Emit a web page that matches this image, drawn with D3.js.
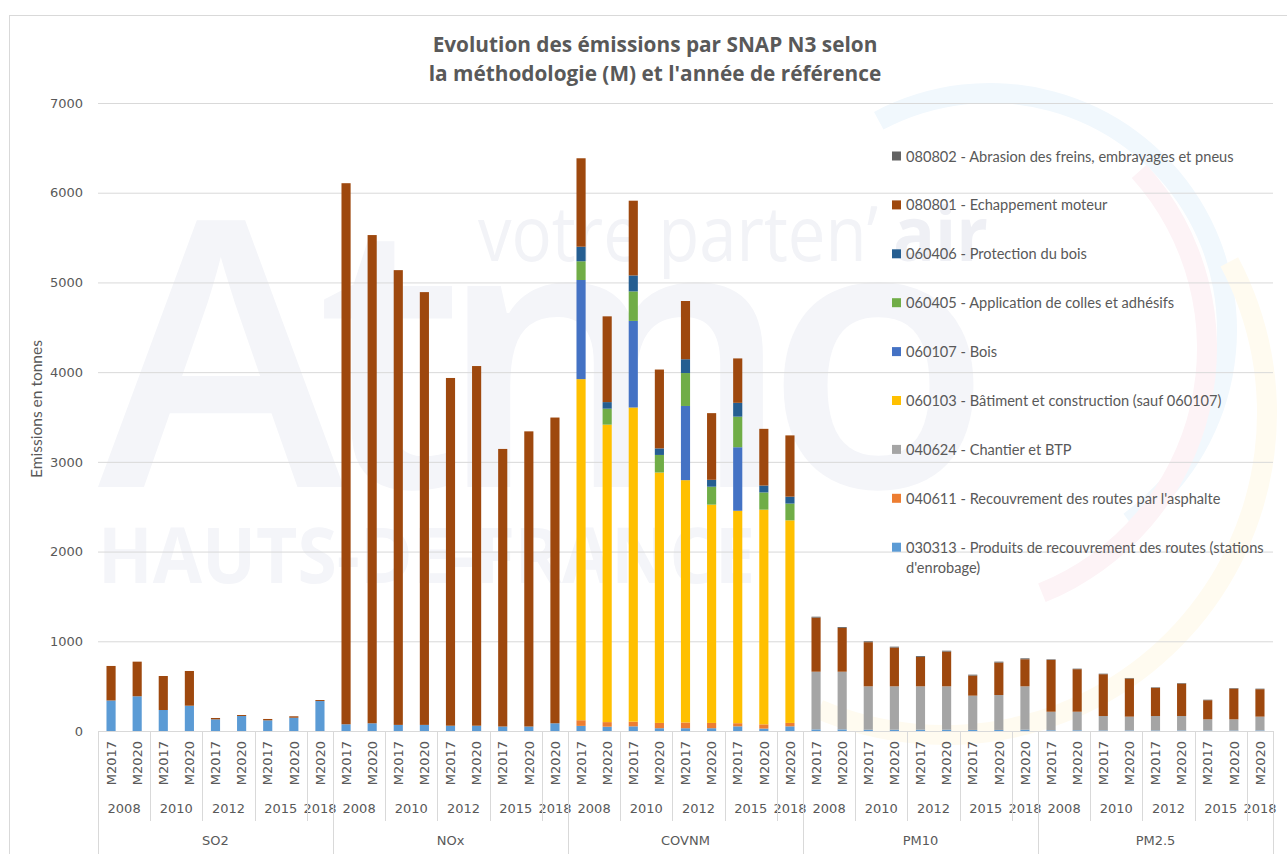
<!DOCTYPE html>
<html lang="fr">
<head>
<meta charset="UTF-8">
<title>Evolution des émissions par SNAP N3</title>
<script src="https://d3js.org/d3.v7.min.js"></script>
<style>
  html, body { margin: 0; padding: 0; background: #fff; }
  svg { display: block; }
  .tick text { font-family: "DejaVu Sans", Verdana, sans-serif; font-size: 13px; fill: #595959; }
</style>
</head>
<body>
<svg id="chart" width="1287" height="854"></svg>
<script>
// --- categories (3 level axis) ---
const pollutants = ["SO2", "NOx", "COVNM", "PM10", "PM2.5"];
const years = ["2008", "2010", "2012", "2015", "2018"];
const methodsByYear = [["M2017", "M2020"], ["M2017", "M2020"], ["M2017", "M2020"], ["M2017", "M2020"], ["M2020"]];
const yTicks = [0, 1000, 2000, 3000, 4000, 5000, 6000, 7000];

// --- series, 9 bars per pollutant (SO2, NOx, COVNM, PM10, PM2.5) ---
const s030313 = [340, 387, 234, 282, 130, 167, 119, 148, 334,
                 75, 86, 68, 68, 59, 59, 50, 50, 86,
                 57, 48, 52, 31, 31, 31, 52, 27, 52,
                 18, 18, 15, 15, 15, 15, 12, 12, 15,
                 8, 8, 6, 6, 6, 6, 5, 5, 6];
const s040611 = [0, 0, 0, 0, 0, 0, 0, 0, 0,
                 0, 0, 0, 0, 0, 0, 0, 0, 0,
                 63, 51, 52, 59, 64, 59, 35, 47, 38,
                 0, 0, 0, 0, 0, 0, 0, 0, 0,
                 0, 0, 0, 0, 0, 0, 0, 0, 0];
const s040624 = [0, 0, 0, 0, 0, 0, 0, 0, 0,
                 0, 0, 0, 0, 0, 0, 0, 0, 0,
                 0, 0, 0, 0, 0, 0, 0, 0, 0,
                 643, 643, 483, 483, 483, 483, 382, 389, 483,
                 207, 207, 161, 154, 161, 161, 125, 125, 154];
const s060103 = [0, 0, 0, 0, 0, 0, 0, 0, 0,
                 0, 0, 0, 0, 0, 0, 0, 0, 0,
                 3802, 3316, 3502, 2791, 2701, 2433, 2368, 2393, 2258,
                 0, 0, 0, 0, 0, 0, 0, 0, 0,
                 0, 0, 0, 0, 0, 0, 0, 0, 0];
const s060107 = [0, 0, 0, 0, 0, 0, 0, 0, 0,
                 0, 0, 0, 0, 0, 0, 0, 0, 0,
                 1105, 0, 965, 0, 827, 0, 708, 0, 0,
                 0, 0, 0, 0, 0, 0, 0, 0, 0,
                 0, 0, 0, 0, 0, 0, 0, 0, 0];
const s060405 = [0, 0, 0, 0, 0, 0, 0, 0, 0,
                 0, 0, 0, 0, 0, 0, 0, 0, 0,
                 209, 178, 329, 196, 367, 200, 341, 192, 187,
                 0, 0, 0, 0, 0, 0, 0, 0, 0,
                 0, 0, 0, 0, 0, 0, 0, 0, 0];
const s060406 = [0, 0, 0, 0, 0, 0, 0, 0, 0,
                 0, 0, 0, 0, 0, 0, 0, 0, 0,
                 162, 73, 178, 73, 154, 77, 154, 77, 77,
                 0, 0, 0, 0, 0, 0, 0, 0, 0,
                 0, 0, 0, 0, 0, 0, 0, 0, 0];
const s080801 = [385, 386, 379, 387, 15, 11, 15, 16, 11,
                 6031, 5442, 5069, 4824, 3876, 4009, 3094, 3290, 3408,
                 986, 956, 833, 879, 649, 743, 495, 632, 683,
                 603, 488, 492, 432, 328, 387, 224, 362, 302,
                 578, 474, 466, 425, 314, 362, 213, 343, 306];
const s080802 = [0, 0, 0, 0, 0, 0, 0, 0, 0,
                 0, 0, 0, 0, 0, 0, 0, 0, 0,
                 0, 0, 0, 0, 0, 0, 0, 0, 0,
                 10, 10, 10, 10, 10, 10, 10, 10, 10,
                 6, 6, 6, 6, 6, 6, 6, 6, 6];

// stack order bottom -> top
const seriesKeys = ["030313", "040611", "040624", "060103", "060107", "060405", "060406", "080801", "080802"];
const seriesValues = [s030313, s040611, s040624, s060103, s060107, s060405, s060406, s080801, s080802];
const seriesLabels = [
  "030313 - Produits de recouvrement des routes (stations d'enrobage)",
  "040611 - Recouvrement des routes par l'asphalte",
  "040624 - Chantier et BTP",
  "060103 - Bâtiment et construction (sauf 060107)",
  "060107 - Bois",
  "060405 - Application de colles et adhésifs",
  "060406 - Protection du bois",
  "080801 - Echappement moteur",
  "080802 - Abrasion des freins, embrayages et pneus"
];
const seriesColors = ["#5b9bd5", "#ed7d31", "#a5a5a5", "#ffc000", "#4472c4", "#70ad47", "#255e91", "#9e480e", "#636363"];

// build rows
const rows = [];
pollutants.forEach(p => {
  years.forEach((yr, yi) => {
    methodsByYear[yi].forEach(m => {
      const i = rows.length;
      const row = { i: i, pollutant: p, year: yr, method: m };
      seriesKeys.forEach((k, si) => { row[k] = seriesValues[si][i]; });
      rows.push(row);
    });
  });
});

const svg = d3.select("#chart");
const W = 1287, H = 854;
const plot = { left: 98, right: 1273, top: 103, bottom: 731 };

// chart frame
svg.append("rect")
  .attr("x", 9.5).attr("y", 15.5)
  .attr("width", W + 20).attr("height", H + 20)
  .attr("fill", "#fff").attr("stroke", "#d9d9d9");

// watermark (logo behind the plot)
const wm = svg.append("g").attr("class", "watermark");
const arc = d3.arc();
const rings = [
  { cx: 990, cy: 330, r: 237, a0: -28, a1: 144, color: "#f1f8fd" },
  { cx: 943, cy: 348, r: 264, a0: 48, a1: 158, color: "#fdf3f6" },
  { cx: 945, cy: 413, r: 322, a0: 62, a1: 203, color: "#fffbf0" }
];
rings.forEach(d => {
  wm.append("path")
    .attr("transform", `translate(${d.cx},${d.cy})`)
    .attr("d", arc({ innerRadius: d.r - 10, outerRadius: d.r + 10,
                     startAngle: d.a0 * Math.PI / 180, endAngle: d.a1 * Math.PI / 180, cornerRadius: 10 }))
    .attr("fill", d.color);
});
wm.append("text")
  .attr("x", 98).attr("y", 487)
  .attr("textLength", 894).attr("lengthAdjust", "spacing")
  .style("font-family", "'Open Sans', sans-serif").style("font-weight", 600)
  .style("font-size", "372px").attr("fill", "#f4f5f9")
  .text("Atmo");
wm.append("text")
  .attr("x", 98).attr("y", 583)
  .attr("textLength", 657).attr("lengthAdjust", "spacingAndGlyphs")
  .style("font-family", "'Open Sans', sans-serif").style("font-weight", 700)
  .style("font-size", "77px").attr("fill", "#f4f5f9")
  .text("HAUTS-DE-FRANCE");
wm.append("text")
  .attr("x", 478).attr("y", 261)
  .attr("textLength", 400).attr("lengthAdjust", "spacingAndGlyphs")
  .style("font-family", "'Open Sans', sans-serif").style("font-weight", 400)
  .style("font-size", "76px").attr("fill", "#f2f3f7")
  .text("votre parten\u2019");
wm.append("text")
  .attr("x", 893).attr("y", 261)
  .attr("textLength", 95).attr("lengthAdjust", "spacingAndGlyphs")
  .style("font-family", "'Open Sans', sans-serif").style("font-weight", 700)
  .style("font-size", "76px").attr("fill", "#eff0f5")
  .text("air");

// scales
const x = d3.scaleBand()
  .domain(rows.map(d => d.i))
  .range([plot.left, plot.right])
  .paddingInner(0.65)
  .paddingOuter(0.325);
const y = d3.scaleLinear().domain([0, 7000]).range([plot.bottom, plot.top]);
const step = x.step();

// y axis + gridlines
const yAxis = svg.append("g")
  .attr("transform", `translate(${plot.left},0)`)
  .call(d3.axisLeft(y).tickValues(yTicks).tickFormat(d3.format("d"))
    .tickSize(-(plot.right - plot.left)).tickPadding(15));
yAxis.select(".domain").remove();
yAxis.selectAll(".tick line").attr("stroke", "#d9d9d9");

// y axis title
svg.append("text")
  .attr("transform", "translate(36,409) rotate(-90)")
  .attr("text-anchor", "middle")
  .attr("dominant-baseline", "central")
  .style("font-family", "Lato, 'Open Sans', sans-serif").style("font-size", "15.5px")
  .attr("fill", "#595959")
  .text("Emissions en tonnes");

// stacked bars
const stack = d3.stack().keys(seriesKeys);
const stacked = stack(rows);
const color = d3.scaleOrdinal().domain(seriesKeys).range(seriesColors);

svg.append("g").selectAll("g")
  .data(stacked)
  .join("g")
  .attr("fill", d => color(d.key))
  .selectAll("rect")
  .data(d => d.filter(s => s[1] - s[0] > 0))
  .join("rect")
  .attr("x", d => x(d.data.i))
  .attr("width", x.bandwidth())
  .attr("y", d => y(d[1]))
  .attr("height", d => y(d[0]) - y(d[1]));

// x axis, level 1 (method)
const xAxis = svg.append("g")
  .attr("transform", `translate(0,${plot.bottom})`)
  .call(d3.axisBottom(x).tickSize(0).tickFormat(i => rows[i].method));
xAxis.select(".domain").attr("stroke", "#d9d9d9");
xAxis.selectAll(".tick text")
  .attr("transform", "rotate(-90)")
  .attr("text-anchor", "end")
  .attr("x", -10)
  .attr("y", 0)
  .attr("dy", "0.36em");

// level 2 (year) and level 3 (pollutant)
const lab = svg.append("g")
  .style("font-family", "'DejaVu Sans', Verdana, sans-serif")
  .style("font-size", "13px")
  .attr("fill", "#595959")
  .attr("text-anchor", "middle");

const yearGroups = d3.groups(rows, d => d.pollutant, d => d.year);
const seps = [];
yearGroups.forEach(([p, ys]) => {
  const pRows = ys.flatMap(g => g[1]);
  const p0 = plot.left + pRows[0].i * step;
  const p1 = plot.left + (pRows[pRows.length - 1].i + 1) * step;
  seps.push({ x: p0, long: true });
  lab.append("text")
    .attr("x", (p0 + p1) / 2).attr("y", 840)
    .attr("dominant-baseline", "central")
    .text(p);
  ys.forEach(([yr, rs], k) => {
    const g0 = plot.left + rs[0].i * step;
    const g1 = plot.left + (rs[rs.length - 1].i + 1) * step;
    if (k > 0) seps.push({ x: g0, long: false });
    lab.append("text")
      .attr("x", (g0 + g1) / 2).attr("y", 808)
      .attr("dominant-baseline", "central")
      .text(yr);
  });
});
seps.push({ x: plot.right, long: true });

svg.append("g").selectAll("line")
  .data(seps)
  .join("line")
  .attr("x1", d => Math.round(d.x) + 0.5).attr("x2", d => Math.round(d.x) + 0.5)
  .attr("y1", plot.bottom).attr("y2", d => d.long ? H : 821)
  .attr("stroke", "#d9d9d9");

// title
const title = svg.append("text")
  .attr("text-anchor", "middle")
  .style("font-family", "'Open Sans', Lato, sans-serif")
  .style("font-weight", 700).style("font-size", "20.8px")
  .attr("fill", "#595959");
title.append("tspan").attr("x", 655).attr("y", 52).text("Evolution des émissions par SNAP N3 selon");
title.append("tspan").attr("x", 655).attr("y", 81).text("la méthodologie (M) et l'année de référence");

// legend (top -> bottom is reverse of the stack)
const legendY0 = 156, legendStep = 48.9;
const legend = svg.append("g")
  .style("font-family", "Lato, 'Open Sans', sans-serif")
  .style("font-size", "14.6px");
const legendOrder = seriesKeys.map((k, i) => i).reverse();
legendOrder.forEach((si, n) => {
  const cy = legendY0 + n * legendStep;
  const g = legend.append("g");
  g.append("rect")
    .attr("x", 892).attr("y", cy - 4.5)
    .attr("width", 9).attr("height", 9)
    .attr("fill", seriesColors[si]);
  const t = g.append("text")
    .attr("x", 906).attr("y", cy)
    .attr("dominant-baseline", "central")
    .attr("fill", "#595959");
  if (si === 0) {
    // long label wraps on two lines
    t.append("tspan").attr("x", 906).text("030313 - Produits de recouvrement des routes (stations");
    t.append("tspan").attr("x", 906).attr("dy", 19.5).text("d'enrobage)");
  } else {
    t.text(seriesLabels[si]);
  }
});
</script>
</body>
</html>
